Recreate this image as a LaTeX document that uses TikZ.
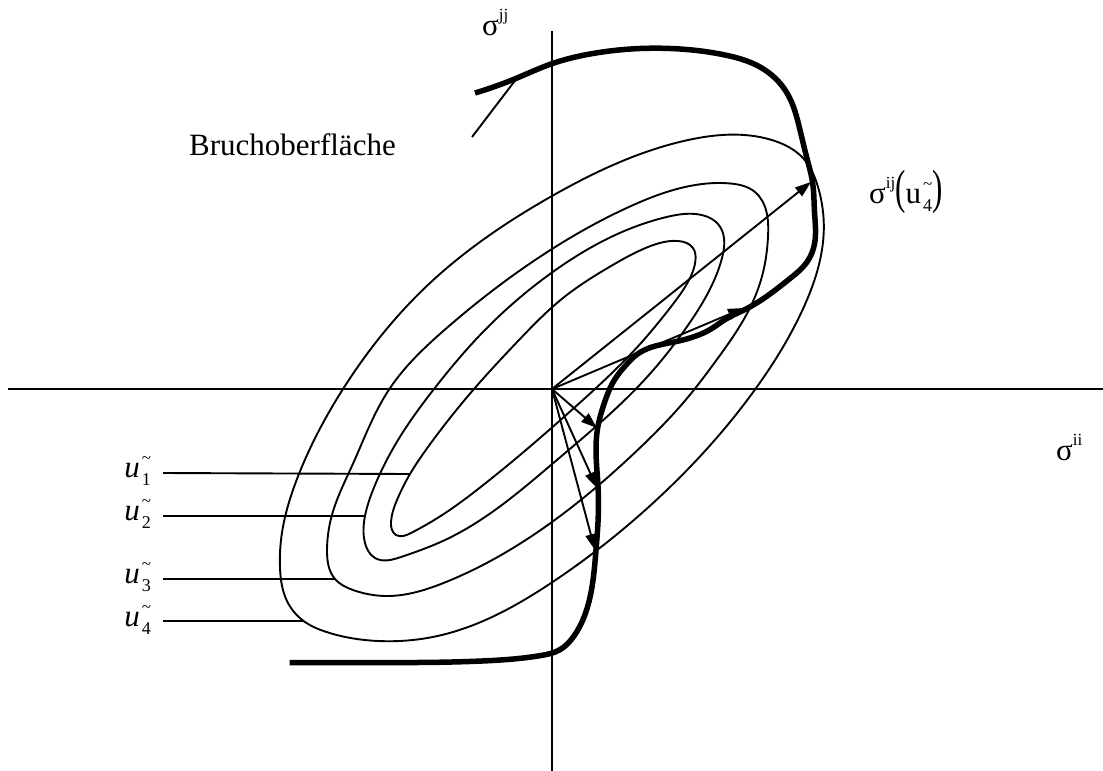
\documentclass[tikz,border=0pt]{standalone}
\usepackage{fontspec}
\setmainfont{Liberation Serif}
\usepackage{graphicx}
\usetikzlibrary{arrows.meta,hobby}
\newcommand{\supx}[1]{\raisebox{15pt}{\fontsize{17}{17}\selectfont #1}}
\newcommand{\uscr}[1]{\kern2pt\rlap{\raisebox{14pt}{\fontsize{17}{17}\selectfont\textasciitilde}}\raisebox{-8pt}{\fontsize{18}{18}\selectfont #1}}
\newcommand{\ulab}[1]{\textit{u}\uscr{#1}}
\tikzset{
  thinline/.style={line width=1.9pt},
  boundary/.style={line width=5.5pt},
  vec/.style={line width=1.9pt, -{Triangle[length=16pt,width=11pt]}},
  lbl/.style={inner sep=0pt, font=\fontsize{31}{36}\selectfont},
}
\begin{document}
\begin{tikzpicture}[x=1pt,y=-1pt]
\useasboundingbox (0,0) rectangle (1103,771);
% axes
\coordinate (O) at (552,389);
\coordinate (xl) at (8,389);
\coordinate (xr) at (1103,389);
\coordinate (yt) at (552,31);
\coordinate (yb) at (552,771);
\draw[thinline] (xl) -- (xr);
\draw[thinline] (yt) -- (yb);
% level curves
\draw[thinline, use Hobby shortcut, closed=true]
 (678,241) .. (693,248) .. (695.5,260) .. (689,280) .. (670,308) .. (641,343)
 .. (574,408) .. (482,486) .. (437.5,518) .. (411,533) .. (396,535) .. (391,522)
 .. (397,500) .. (410,474) .. (428,447) .. (474,389) .. (519,340) .. (563,298) .. (611,266) .. (648,247);
\draw[thinline, use Hobby shortcut, closed=true]
 (703.6,215.5) .. (718,224) .. (724,238) .. (722,258) .. (711,287) .. (685,329.5) .. (648,376)
 .. (555.7,461) .. (445,540) .. (401,557) .. (375,558) .. (365,543)
 .. (365,516) .. (374.6,486) .. (400.5,436) .. (434,389) .. (482,333) .. (552,272.5) .. (611,237) .. (666.6,217);
\draw[thinline, use Hobby shortcut, closed=true]
 (729.5,183.4) .. (755,192) .. (766.5,212) .. (768,237) .. (763,272.5) .. (748,311.7) .. (718,358)
 .. (685,400.7) .. (637,450.6) .. (552,522) .. (445,582.4) .. (386,596)
 .. (353,590) .. (335,579) .. (327,550) .. (332,514.8) .. (352.4,465) .. (389.4,389) .. (445,329.5)
 .. (552,249) .. (629.7,206.6) .. (685,187);
\draw[thinline, use Hobby shortcut, closed=true]
 (722,135) .. (774,140.7) .. (803.4,158.5) .. (818,187) .. (823.8,229.7) .. (803.4,308)
 .. (755.4,389) .. (648,507.6) .. (552,582.4) .. (437.5,636) .. (378.3,641) .. (326.5,632)
 .. (303.6,621) .. (287,601) .. (280,568) .. (282,532.6) .. (297,479) .. (343,389)
 .. (430,283) .. (552,196) .. (685,140.7);
% fracture surface
\draw[boundary, use Hobby shortcut]
 (475,93) .. (517,78) .. (551,64) .. (590,54) .. (680,49) .. (725,55) .. (760,67) .. (787,93) .. (800,130)
 .. (807,158.5) .. (812.7,183.4) .. (814.5,212) .. (814.5,244) .. (807,262) .. (788.6,279.6) .. (770,294)
 .. (744,310) .. (726,319) .. (711,329) .. (696,336) .. (674,342) .. (652,347) .. (637,354.4)
 .. (626,365) .. (615,379) .. (604,404) .. (598,426) .. (596,451) .. (598,486) .. (598,522) .. (596,550)
 .. (592.7,582.4) .. (585,614.5) .. (574,636) .. (559.4,650) .. (541,655.5) .. (482,661) .. (371,662.6)
 .. (289.6,662.6);
% vectors
\coordinate (t1) at (811,182);
\coordinate (t2) at (744,308);
\coordinate (t3) at (597,428);
\coordinate (t4) at (597,488);
\coordinate (t5) at (595,550);
\foreach \t in {t1,t2,t3,t4,t5} \draw[vec] (O) -- (\t);
% labels
\node[lbl, anchor=base west] (sjj) at (482,35) {σ\supx{jj}};
\node[lbl, anchor=base west] (sii) at (1056,460) {σ\supx{ii}};
\node[lbl, anchor=base west] (sij) at (869,203) {σ\supx{ij}\scalebox{1}[1.55]{(}u\uscr{4}\scalebox{1}[1.55]{)}};
\node[lbl, anchor=base west] (bruch) at (189,155) {Bruchoberfläche};
\coordinate (p1) at (517,78);
\coordinate (p2) at (472,137);
\draw[thinline] (p1) -- (p2);
% u labels
\node[lbl, anchor=base east] (u1) at (151,477) {\ulab{1}};
\node[lbl, anchor=base east] (u2) at (151,520) {\ulab{2}};
\node[lbl, anchor=base east] (u3) at (151,583) {\ulab{3}};
\node[lbl, anchor=base east] (u4) at (151,626) {\ulab{4}};
\coordinate (u1s) at (163,473); \coordinate (u1e) at (410,474);
\coordinate (u2s) at (163,516); \coordinate (u2e) at (365,516);
\coordinate (u3s) at (163,579); \coordinate (u3e) at (335,579);
\coordinate (u4s) at (163,621); \coordinate (u4e) at (303.6,621);
\draw[thinline] (u1s) -- (u1e);
\draw[thinline] (u2s) -- (u2e);
\draw[thinline] (u3s) -- (u3e);
\draw[thinline] (u4s) -- (u4e);
\end{tikzpicture}
\end{document}
